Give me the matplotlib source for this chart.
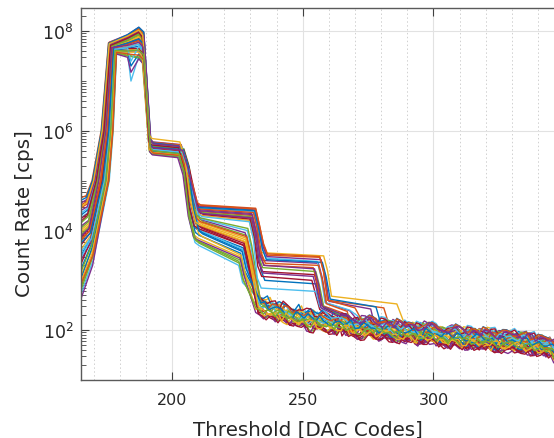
import numpy as np
import matplotlib
matplotlib.use("Agg")
import matplotlib.pyplot as plt
from matplotlib.ticker import FixedLocator, LogLocator, MultipleLocator, FuncFormatter, NullFormatter

plt.rcParams['font.family'] = ['DejaVu Sans']
plt.rcParams['mathtext.fontset'] = 'dejavusans'

# ---------------- data ----------------
# line group: 1 = late steps (extra plateau ~1e3 between 232 and 256), 0 = early drop to noise floor
upper = [1,0,0,1,0,0,1,0,1,1,0,0,1,0,0,1,0,1,0,0,1,0,1,0,0,1,0,0,1,0,0,1,0,1,0,0,1,0,1,0]
rate_165 = [2.0e4, 6.0e3, 1.2e3, 3.5e4, 8.0e3, 5.0e2, 1.5e4, 3.0e3, 4.5e4, 9.0e3,
            2.5e3, 7.0e2, 1.8e4, 5.0e3, 1.0e3, 2.8e4, 4.0e3, 1.2e4, 6.0e2, 2.2e4,
            7.0e3, 1.6e3, 3.2e4, 1.0e4, 4.0e2, 1.4e4, 3.5e3, 2.0e3, 4.0e4, 6.5e3,
            9.0e2, 2.5e4, 1.1e4, 2.8e3, 1.7e4, 5.5e3, 8.0e2, 3.0e4, 7.5e3, 1.4e3]
shelf_rate = [2.6e4, 1.0e4, 4.0e3, 4.2e4, 1.2e4, 2.5e3, 2.0e4, 7.0e3, 5.0e4, 1.3e4,
              6.0e3, 3.0e3, 2.3e4, 9.0e3, 4.5e3, 3.4e4, 8.0e3, 1.6e4, 3.0e3, 2.8e4,
              1.1e4, 5.5e3, 3.8e4, 1.4e4, 2.0e3, 1.9e4, 7.5e3, 6.0e3, 4.6e4, 1.0e4,
              3.5e3, 3.0e4, 1.5e4, 7.0e3, 2.2e4, 9.0e3, 3.2e3, 3.6e4, 1.1e4, 5.0e3]
rise_shift = [1.0, 2.0, 3.0, 0.5, 1.5, 3.5, 0.8, 2.5, 0.2, 1.8, 2.8, 3.2, 1.2, 2.2, 3.0, 0.6,
              2.4, 1.4, 3.4, 0.9, 1.7, 2.9, 0.4, 1.6, 3.3, 1.1, 2.6, 2.1, 0.3, 1.9, 3.1, 0.7,
              1.3, 2.7, 1.0, 2.3, 3.4, 0.5, 1.5, 2.8]
peak_start = [5.5e7, 4.5e7, 4.0e7, 6.0e7, 5.0e7, 3.8e7, 5.2e7, 4.2e7, 5.8e7, 4.8e7,
              4.0e7, 3.6e7, 5.4e7, 4.6e7, 4.1e7, 5.6e7, 4.4e7, 5.0e7, 3.7e7, 5.3e7,
              4.7e7, 4.2e7, 5.9e7, 4.9e7, 3.5e7, 5.1e7, 4.3e7, 4.5e7, 5.7e7, 4.6e7,
              3.9e7, 5.5e7, 5.0e7, 4.4e7, 5.2e7, 4.8e7, 3.8e7, 5.6e7, 4.7e7, 4.1e7]
peak_mid = [7.5e7, 5.5e7, 4.2e7, 8.5e7, 6.5e7, 3.6e7, 7.0e7, 4.8e7, 8.0e7, 6.0e7,
            4.0e7, 3.2e7, 7.5e7, 5.5e7, 3.8e7, 7.8e7, 5.0e7, 6.5e7, 3.3e7, 7.0e7,
            5.8e7, 4.5e7, 8.2e7, 6.2e7, 3.0e7, 7.0e7, 4.8e7, 4.5e7, 8.5e7, 5.5e7,
            3.8e7, 7.5e7, 6.5e7, 4.6e7, 7.2e7, 5.8e7, 3.5e7, 8.0e7, 5.2e7, 4.0e7]
peak_dip = [0, 0, 0, 0, 0, 1.0e7, 0, 0, 0, 0, 0, 0, 0, 0, 2.0e7, 0, 0, 0, 0, 0,
            0, 0, 0, 0, 1.5e7, 0, 0, 0, 0, 0, 0, 0, 0, 2.5e7, 0, 0, 0, 0, 0, 0]
peak_end = [1.1e8, 7.0e7, 4.5e7, 1.2e8, 8.0e7, 3.2e7, 9.5e7, 5.5e7, 1.15e8, 7.5e7,
            4.0e7, 2.9e7, 1.0e8, 6.5e7, 3.5e7, 1.05e8, 6.0e7, 8.5e7, 3.0e7, 9.0e7,
            7.0e7, 5.0e7, 1.1e8, 8.0e7, 2.8e7, 9.0e7, 5.5e7, 4.5e7, 1.2e8, 6.5e7,
            3.8e7, 1.0e8, 8.5e7, 5.0e7, 9.5e7, 7.0e7, 3.3e7, 1.05e8, 6.0e7, 4.2e7]
drop_shift = [0.3, 0.6, 0.1, 0.5, 0.2, 0.7, 0.4, 0.0, 0.6, 0.3, 0.5, 0.1, 0.7, 0.2, 0.4, 0.6,
              0.0, 0.3, 0.5, 0.2, 0.4, 0.7, 0.1, 0.6, 0.3, 0.0, 0.5, 0.2, 0.6, 0.4, 0.1, 0.7,
              0.3, 0.5, 0.0, 0.4, 0.6, 0.2, 0.3, 0.5]
plateau2_start = [5.5e5, 4.5e5, 3.8e5, 6.0e5, 5.0e5, 3.5e5, 5.2e5, 4.2e5, 5.8e5, 4.6e5,
                  4.0e5, 3.4e5, 5.4e5, 4.4e5, 3.9e5, 5.6e5, 4.3e5, 5.0e5, 3.6e5, 5.3e5,
                  4.7e5, 4.1e5, 5.9e5, 4.8e5, 3.3e5, 5.1e5, 4.3e5, 4.5e5, 5.7e5, 4.6e5,
                  3.7e5, 5.5e5, 4.9e5, 4.2e5, 5.2e5, 4.7e5, 3.6e5, 7.0e5, 4.6e5, 4.0e5]
plateau2_end = [4.8e5, 4.0e5, 3.4e5, 5.3e5, 4.4e5, 3.1e5, 4.6e5, 3.7e5, 5.1e5, 4.1e5,
                3.5e5, 3.0e5, 4.8e5, 3.9e5, 3.4e5, 4.9e5, 3.8e5, 4.4e5, 3.2e5, 4.7e5,
                4.2e5, 3.6e5, 5.2e5, 4.3e5, 2.9e5, 4.5e5, 3.8e5, 4.0e5, 5.0e5, 4.1e5,
                3.3e5, 4.9e5, 4.3e5, 3.7e5, 4.6e5, 4.2e5, 3.2e5, 6.0e5, 4.1e5, 3.5e5]
step2_shift = [1.0, 2.0, 0.5, 1.5, 2.5, 0.8, 1.2, 2.2, 0.3, 1.8, 2.4, 0.6, 1.4, 2.0, 0.9, 1.6,
               2.3, 0.4, 1.1, 1.9, 2.5, 0.7, 1.3, 2.1, 0.2, 1.7, 2.4, 1.0, 0.5, 1.5, 2.2, 0.8,
               1.2, 1.9, 0.4, 2.3, 1.6, 1.0, 2.0, 0.6]
plateau3_start = [3.0e4, 1.2e4, 7.0e3, 2.6e4, 1.5e4, 5.0e3, 2.2e4, 9.0e3, 3.3e4, 2.0e4,
                  1.6e4, 6.0e3, 2.8e4, 1.1e4, 8.0e3, 2.4e4, 1.3e4, 3.1e4, 5.5e3, 1.7e4,
                  2.1e4, 1.0e4, 2.7e4, 1.4e4, 6.5e3, 2.3e4, 9.5e3, 1.2e4, 2.9e4, 1.5e4,
                  7.5e3, 2.5e4, 1.8e4, 1.9e4, 1.1e4, 8.5e3, 3.2e4, 1.3e4, 2.2e4, 6.0e3]
plateau3_end = [2.6e4, 6.0e3, 3.0e3, 2.2e4, 8.0e3, 2.0e3, 1.8e4, 4.0e3, 2.8e4, 1.6e4,
                9.0e3, 2.5e3, 2.4e4, 5.0e3, 3.5e3, 2.0e4, 6.5e3, 2.7e4, 2.2e3, 1.0e4,
                1.7e4, 4.5e3, 2.3e4, 7.0e3, 2.8e3, 1.9e4, 4.2e3, 5.5e3, 2.5e4, 7.5e3,
                3.2e3, 2.1e4, 1.1e4, 1.5e4, 5.0e3, 3.8e3, 2.7e4, 6.0e3, 1.8e4, 2.4e3]
step3_at = [231.0, 227.5, 226.0, 230.5, 228.5, 225.5, 230.0, 227.0, 232.0, 229.5,
            228.0, 226.5, 231.5, 227.8, 226.2, 230.8, 228.2, 231.8, 225.8, 228.8,
            229.8, 227.2, 231.2, 228.4, 226.0, 230.2, 227.0, 227.6, 231.6, 228.6,
            226.4, 230.6, 229.0, 229.6, 227.4, 226.8, 232.0, 228.0, 230.4, 225.6]
plateau4_start = [1.0e3, 0, 0, 2.5e3, 0, 0, 1.5e3, 0, 3.2e3, 3.6e3, 0, 0, 2.8e3, 0, 0, 2.0e3,
                  0, 3.0e3, 0, 0, 1.2e3, 0, 2.2e3, 0, 0, 1.8e3, 0, 0, 2.6e3, 0, 0, 2.0e3,
                  0, 7.0e2, 0, 0, 3.4e3, 0, 1.4e3, 0]
plateau4_end = [8.5e2, 0, 0, 2.2e3, 0, 0, 1.3e3, 0, 2.9e3, 3.1e3, 0, 0, 2.4e3, 0, 0, 1.8e3,
                0, 2.6e3, 0, 0, 1.0e3, 0, 2.0e3, 0, 0, 1.5e3, 0, 0, 2.3e3, 0, 0, 1.7e3,
                0, 6.0e2, 0, 0, 3.0e3, 0, 1.2e3, 0]
step4_at = [255.0, 0, 0, 256.0, 0, 0, 254.5, 0, 256.5, 258.0, 0, 0, 255.5, 0, 0, 254.0,
            0, 257.0, 0, 0, 253.5, 0, 256.0, 0, 0, 255.0, 0, 0, 257.5, 0, 0, 254.5,
            0, 255.0, 0, 0, 256.5, 0, 254.0, 0]
tail_rate = [2.8e2, 0, 0, 3.5e2, 0, 0, 3.0e2, 0, 4.0e2, 4.8e2, 0, 0, 3.6e2, 0, 0, 3.2e2,
             0, 3.8e2, 0, 0, 2.6e2, 0, 3.4e2, 0, 0, 3.0e2, 0, 0, 4.2e2, 0, 0, 3.0e2,
             0, 2.5e2, 0, 0, 4.0e2, 0, 2.8e2, 0]
tail_end = [264, 0, 0, 268, 0, 0, 263, 0, 281, 286, 0, 0, 268, 0, 0, 265,
            0, 276, 0, 0, 262, 0, 267, 0, 0, 264, 0, 0, 278, 0, 0, 265,
            0, 261, 0, 0, 270, 0, 263, 0]
# noise floor
floor_thr = [232, 235, 238, 241, 244, 247, 250, 253, 256, 259, 262, 265, 268, 271, 274,
             277, 280, 283, 286, 289, 292, 295, 298, 301, 304, 307, 310, 313, 316, 319,
             322, 325, 328, 331, 334, 337, 340, 343, 346]
floor_rate = [320, 280, 250, 225, 205, 185, 170, 160, 150, 140, 133, 127, 121, 116, 111,
              107, 103, 99, 95, 92, 89, 86, 83, 80, 77, 75, 72, 70, 68, 66,
              64, 62, 60, 58, 56, 54, 51, 48, 44]
floor_offset = [12, -8, 3, 15, -14, 5, -17, 9, -3, 16, -11, 0, 18, -15, 7, -5, 14, -18, 2, 10,
                -13, 17, -7, 4, -16, 11, -2, 15, -10, 6, -12, 13, -4, 8, -18, 1, 16, -9, 12, -6]
floor_wiggle = [
    [3,-5,6,-2,-8,4,9,-3,0,-7,5,2,-6,8,-1,-9,4,7,-4,1,-6,10,-2,-5,3,6,-8,0,5,-3,-10,4,2,-6,7,-1,-4,3,-12],
    [-4,2,-7,5,1,-3,-9,6,-2,4,8,-5,0,-8,3,7,-1,-6,9,-3,2,-4,6,1,-9,-2,5,-7,3,8,-4,-1,6,-5,2,-8,4,1,-6],
    [6,-1,3,-8,5,-4,2,7,-6,1,-3,9,-5,4,-2,-7,8,0,-4,6,-9,3,-1,5,-6,2,-8,7,-3,1,6,-5,-2,9,-7,3,-4,0,-10],
    [-2,7,-4,1,-6,8,-3,-1,5,-8,2,6,-4,-2,9,-5,1,-7,4,3,-8,0,7,-3,-5,8,-1,2,-6,4,-9,5,1,-3,6,-7,2,-2,-8],
    [1,-6,4,8,-3,-1,6,-8,3,-2,-5,7,1,-9,4,-3,6,2,-7,-1,5,-4,8,-6,0,3,-7,5,-2,-4,7,-8,3,0,-5,6,-3,-6,-14],
]
y_ticks = [1e2, 1e4, 1e6, 1e8]
x_ticks = [200, 250, 300]

# ---------------- style ----------------
colors = ['#0072BD', '#D95319', '#EDB120', '#7E2F8E', '#77AC30', '#4DBEEE', '#A2142F']
W, H = 554, 439
fig = plt.figure(figsize=(W / 100, H / 100), dpi=100)
ax = fig.add_axes([80.5 / W, (H - 381) / H, (W - 80.5) / W, (381 - 9) / H])

for i in range(len(upper)):
    s, d, e = rise_shift[i], drop_shift[i], step2_shift[i]
    kx = [165.0, 167.0 + 0.8 * s, 169.0 + 2.0 * s, 172.6 + 1.4 * s, 175.5 + 0.95 * s, 183.0]
    ky = [rate_165[i], shelf_rate[i], 1.0e5, 1.0e6, peak_start[i], peak_mid[i]]
    if peak_dip[i] > 0:
        kx.append(184.3)
        ky.append(peak_dip[i])
    kx += [187.3, 188.6 + d, 191.2 + d, 192.2 + d, 202.0 + e, 204.0 + e, 206.0 + e,
           208.0 + e, 209.5 + e, step3_at[i]]
    ky += [peak_end[i], peak_end[i] * 0.8, plateau2_start[i] * 1.15, plateau2_start[i],
           plateau2_end[i], plateau2_end[i] * 0.45, plateau3_start[i] * 3.0,
           plateau3_start[i] * 1.15, plateau3_start[i], plateau3_end[i]]
    t3 = step3_at[i]
    if upper[i]:
        t4 = step4_at[i]
        kx += [t3 + 1.5, t3 + 3.0, t3 + 4.5, t4, t4 + 1.5, t4 + 3.0, tail_end[i]]
        ky += [plateau3_end[i] * 0.45, plateau4_start[i] * 1.6, plateau4_start[i],
               plateau4_end[i], plateau4_end[i] * 0.5, tail_rate[i], tail_rate[i] * 0.7]
        start_floor = tail_end[i] + 2.0
    else:
        kx += [t3 + 1.5]
        ky += [plateau3_end[i] * 0.45]
        start_floor = t3 + 3.5
    shift = i % 3
    prof_a = floor_wiggle[i % 5]
    prof_b = floor_wiggle[(i + 2) % 5]
    for x0, r0, wa, wb in zip(floor_thr, floor_rate, prof_a, prof_b):
        for xx, ww in ((x0 + shift, wa), (x0 + shift + 1.5, wb)):
            if xx >= start_floor:
                kx.append(xx)
                ky.append(r0 * 10 ** ((floor_offset[i] + ww) / 100.0))
    ax.plot(kx, ky, color=colors[i % 7], lw=1.0, solid_joinstyle='round')

ax.set_yscale('log')
ax.set_xlim(165, 346.1)
ax.set_ylim(10, 10 ** 8.466)

ax.yaxis.set_major_locator(FixedLocator(y_ticks))
ax.yaxis.set_major_formatter(FuncFormatter(lambda v, p: r'$10^{%d}$' % round(np.log10(v))))
ax.yaxis.set_minor_locator(LogLocator(base=10, subs=np.arange(1, 10) * 1.0, numticks=100))
ax.yaxis.set_minor_formatter(NullFormatter())
ax.xaxis.set_major_locator(FixedLocator(x_ticks))
ax.xaxis.set_minor_locator(MultipleLocator(10))

ax.set_axisbelow(True)
ax.grid(True, which='major', color='#e2e2e2', lw=0.8, ls='-')
ax.xaxis.grid(True, which='minor', color='#d0d0d0', lw=0.7, ls=(0, (1.5, 2.5)))
ax.yaxis.grid(False, which='minor')

ax.tick_params(which='major', direction='in', length=6, width=0.8, color='#404040',
               top=True, right=False, labelcolor='#262626')
ax.tick_params(axis='x', which='minor', length=0, top=True)
ax.tick_params(axis='y', which='minor', direction='in', length=3.5, width=0.6,
               color='#404040', right=False)
ax.tick_params(axis='x', labelsize=11.5, pad=9)
ax.tick_params(axis='y', labelsize=12.5, pad=5)

ax.spines['right'].set_visible(False)
for sp in ['top', 'left', 'bottom']:
    ax.spines[sp].set_color('#5a5a5a')
    ax.spines[sp].set_linewidth(1.0)

fig.text(308 / W, (H - 436) / H, 'Threshold [DAC Codes]', ha='center', va='baseline',
         fontsize=14.3, color='#262626')
fig.text(30 / W, (H - 214) / H, 'Count Rate [cps]', rotation=90, rotation_mode='anchor',
         ha='center', va='baseline', fontsize=14.3, color='#262626')

fig.savefig('out.png', dpi=100, facecolor='white')
